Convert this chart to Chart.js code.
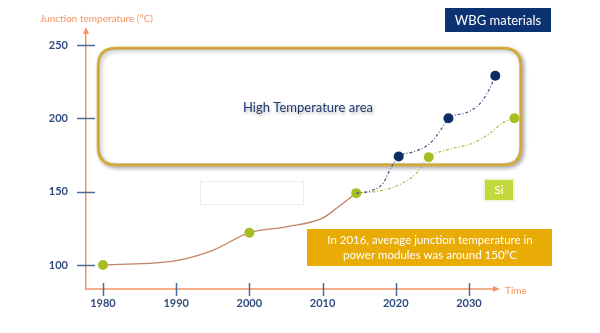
<!DOCTYPE html>
<html>
<head>
<meta charset="utf-8">
<script src="https://cdn.jsdelivr.net/npm/chart.js@4.4.1/dist/chart.umd.min.js"></script>
<style>
  html, body { margin: 0; padding: 0; background: #fff; }
  #wrap { width: 600px; height: 333px; }
</style>
</head>
<body>
<div id="wrap"><canvas id="Chart"></canvas></div>
<script>
// Data
const xTicks = [1980, 1990, 2000, 2010, 2020, 2030];
const yTicks = [100, 150, 200, 250];

// Si history (solid curve); marks = plotted milestones
const siYears = [1980, 1990, 1995, 2000, 2005, 2010, 2012, 2014.6];
const siTemps = [100, 103, 110, 122, 126, 132, 139, 149];
const siMarks = [true, false, false, true, false, false, false, true];

// WBG forecast (navy dash-dot)
const wbgYears = [2014.6, 2016.5, 2018.3, 2019.2, 2020.4, 2022.3, 2024.7, 2026.4, 2027.2, 2029.7, 2031.5, 2032.9, 2033.6];
const wbgTemps = [149, 150.5, 156, 165, 174, 177, 183, 194, 200, 204, 210, 221, 229];
const wbgMarks = [false, false, false, false, true, false, false, false, true, false, false, false, true];

// Si forecast (green dash-dot)
const siFutYears = [2014.6, 2018.3, 2021, 2022.9, 2024.5, 2027, 2030.5, 2032.9, 2034.6, 2036.2];
const siFutTemps = [149, 151, 156, 163, 173.5, 178.5, 183, 190, 197, 200];
const siFutMarks = [false, false, false, false, true, false, false, false, false, true];

const orange = '#f39462';
const navy = '#0d2d63';
const lime = '#a9bd22';
const tickBlue = '#2f4c7e';
const FONT = 'Lato, "Open Sans", sans-serif';
const X_AXIS_END = 2033.42;

const pts = (xs, ys) => xs.map((x, i) => ({ x: x, y: ys[i] }));

function roundRect(ctx, x, y, w, h, r) {
  ctx.beginPath();
  ctx.moveTo(x + r, y);
  ctx.lineTo(x + w - r, y);
  ctx.quadraticCurveTo(x + w, y, x + w, y + r);
  ctx.lineTo(x + w, y + h - r);
  ctx.quadraticCurveTo(x + w, y + h, x + w - r, y + h);
  ctx.lineTo(x + r, y + h);
  ctx.quadraticCurveTo(x, y + h, x, y + h - r);
  ctx.lineTo(x, y + r);
  ctx.quadraticCurveTo(x, y, x + r, y);
  ctx.closePath();
}

const decor = {
  id: 'decor',
  beforeDatasetsDraw(chart) {
    const ctx = chart.ctx;
    const xs = chart.scales.x, ys = chart.scales.y;
    const a = chart.chartArea;
    ctx.save();
    // high temperature area box
    ctx.shadowColor = 'rgba(0,0,0,0.3)';
    ctx.shadowBlur = 4;
    ctx.shadowOffsetX = 2;
    ctx.shadowOffsetY = 2;
    roundRect(ctx, 98, 48, 423, 117, 18);
    ctx.fillStyle = '#fff';
    ctx.fill();
    ctx.lineWidth = 2.5;
    ctx.strokeStyle = '#d6ab30';
    ctx.stroke();
    ctx.shadowColor = 'transparent';
    ctx.lineWidth = 0.8;
    ctx.strokeStyle = 'rgba(110,85,15,0.35)';
    roundRect(ctx, 99.3, 49.3, 420.4, 114.4, 17);
    ctx.stroke();
    ctx.shadowColor = 'rgba(0,0,0,0.3)';
    ctx.shadowBlur = 3;
    ctx.shadowOffsetX = 1;
    ctx.shadowOffsetY = 2;
    ctx.fillStyle = '#1f3a6e';
    ctx.font = '13px ' + FONT;
    ctx.textAlign = 'center';
    ctx.textBaseline = 'middle';
    ctx.fillText('High Temperature area', 308, 108);
    ctx.shadowColor = 'transparent';

    // faint empty box
    ctx.strokeStyle = '#ececec';
    ctx.lineWidth = 1;
    ctx.strokeRect(200.5, 181.5, 103, 23);

    // x axis line (stops short of the chart area, which holds the 2036 point)
    const xEnd = xs.getPixelForValue(X_AXIS_END);
    ctx.strokeStyle = orange;
    ctx.lineWidth = 1.5;
    ctx.beginPath(); ctx.moveTo(a.left - 1, a.bottom); ctx.lineTo(xEnd, a.bottom); ctx.stroke();

    // cross tick marks
    ctx.strokeStyle = '#4d6a96';
    ctx.lineWidth = 1.5;
    yTicks.forEach(v => {
      const y = Math.round(ys.getPixelForValue(v)) + 0.5;
      ctx.beginPath(); ctx.moveTo(77, y); ctx.lineTo(95, y); ctx.stroke();
    });
    xTicks.forEach(v => {
      const x = Math.round(xs.getPixelForValue(v)) + 0.5;
      ctx.beginPath(); ctx.moveTo(x, 283); ctx.lineTo(x, 296); ctx.stroke();
    });

    // axis arrows
    ctx.fillStyle = orange;
    ctx.beginPath();
    ctx.moveTo(a.left, a.top - 6); ctx.lineTo(a.left - 3, a.top + 1); ctx.lineTo(a.left + 3, a.top + 1);
    ctx.fill();
    ctx.beginPath();
    ctx.moveTo(xEnd + 6, a.bottom); ctx.lineTo(xEnd - 1, a.bottom - 3); ctx.lineTo(xEnd - 1, a.bottom + 3);
    ctx.fill();

    // axis titles
    ctx.font = '10px ' + FONT;
    ctx.fillStyle = orange;
    ctx.textAlign = 'left';
    ctx.fillText('Junction temperature (\u00b0C)', 40, 19);
    ctx.fillText('Time', 505, 291);

    // labels
    ctx.fillStyle = '#0c3272';
    ctx.fillRect(445, 8, 106, 24);
    ctx.fillStyle = '#fff';
    ctx.font = '13px ' + FONT;
    ctx.textAlign = 'center';
    ctx.fillText('WBG materials', 498, 20.5);

    ctx.fillStyle = '#f2f6dc';
    ctx.fillRect(483, 178, 32, 24);
    ctx.fillStyle = '#c3d83b';
    ctx.fillRect(485, 180, 28, 20);
    ctx.fillStyle = '#fff';
    ctx.font = '12px ' + FONT;
    ctx.fillText('Si', 499, 190.5);

    ctx.fillStyle = '#e9ac06';
    ctx.fillRect(307, 229, 245, 37);
    ctx.fillStyle = '#fff';
    ctx.font = '11.5px ' + FONT;
    ctx.fillText('In 2016, average junction temperature in', 430, 240);
    ctx.fillText('power modules was around 150\u00b0C', 430, 255);
    ctx.restore();
  }
};

const dashed = (label, xs, ys, marks, line, dot) => ({
  label: label,
  data: pts(xs, ys),
  borderColor: line,
  borderWidth: 1.2,
  borderDash: [3, 2, 1, 2],
  cubicInterpolationMode: 'monotone',
  pointRadius: marks.map(m => m ? 5 : 0),
  pointBackgroundColor: dot,
  pointBorderWidth: 0,
  clip: false
});

const config = {
  type: 'line',
  data: {
    datasets: [
      dashed('WBG materials', wbgYears, wbgTemps, wbgMarks, '#3c5684', navy),
      dashed('Si forecast', siFutYears, siFutTemps, siFutMarks, '#a9bd44', lime),
      {
        label: 'Si',
        data: pts(siYears, siTemps),
        borderColor: '#c08466',
        borderWidth: 1.3,
        cubicInterpolationMode: 'monotone',
        pointRadius: siMarks.map(m => m ? 5 : 0),
        pointBackgroundColor: lime,
        pointBorderWidth: 0,
        clip: false
      }
    ]
  },
  options: {
    responsive: false,
    animation: false,
    layout: { padding: { top: 33, right: 72.5, left: 0, bottom: 0 } },
    plugins: { legend: { display: false }, tooltip: { enabled: false } },
    scales: {
      x: {
        type: 'linear',
        min: 1977.68,
        max: 2038,
        afterBuildTicks: s => { s.ticks = xTicks.map(v => ({ value: v })); },
        afterFit: s => { s.height = 44; },
        grid: { display: false, drawTicks: false },
        border: { display: false },
        ticks: { color: tickBlue, padding: 8, font: { family: FONT, size: 11, weight: 'bold' }, callback: v => String(v) }
      },
      y: {
        min: 83.64,
        max: 258.18,
        afterBuildTicks: s => { s.ticks = yTicks.map(v => ({ value: v })); },
        afterFit: s => { s.width = 86; },
        grid: { display: false, drawTicks: false },
        border: { color: orange, width: 1.5 },
        ticks: { color: tickBlue, padding: 18, font: { family: FONT, size: 11, weight: 'bold' } }
      }
    }
  },
  plugins: [decor]
};

window.addEventListener('load', () => {
  const cv = document.getElementById('Chart');
  cv.width = 600;
  cv.height = 333;
  new Chart(cv, config);
});
</script>
</body>
</html>
